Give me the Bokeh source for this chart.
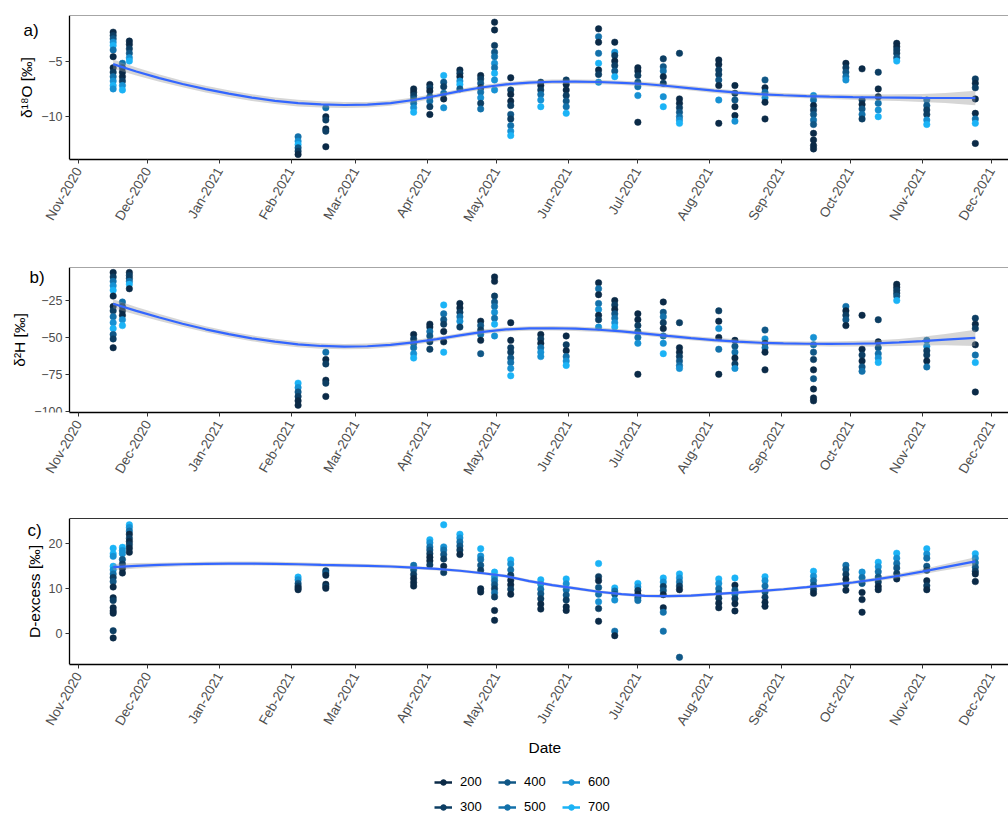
import math
import pandas as pd
from bokeh.plotting import figure
from bokeh.models import (ColumnDataSource, FixedTicker, MonthsTicker, DatetimeTickFormatter,
                          Range1d, Label, Legend, LegendItem, LinearAxis, Title)
from bokeh.layouts import column
from bokeh.embed import file_html
from bokeh.resources import INLINE

# ---------------- data ----------------
depth_levels = [200, 300, 400, 500, 600, 700]
depth_colors = ["#0b2a47", "#0d3e63", "#105786", "#1371aa", "#1791d3", "#1bb3f6"]

sample_dates = ["2020-11-16", "2020-11-20", "2020-11-23", "2021-02-04", "2021-02-16",
                "2021-03-26", "2021-04-02", "2021-04-08", "2021-04-15", "2021-04-24",
                "2021-04-30", "2021-05-07", "2021-05-20", "2021-05-31", "2021-06-14",
                "2021-06-21", "2021-07-01", "2021-07-12", "2021-07-19", "2021-08-05",
                "2021-08-12", "2021-08-25", "2021-09-15", "2021-09-29", "2021-10-06",
                "2021-10-13", "2021-10-21", "2021-11-03", "2021-11-24"]

# (value, depth) per sampling date
d18O = [
    [(-2.4, 200), (-2.7, 300), (-3.0, 400), (-3.3, 600), (-3.6, 700), (-4.0, 500), (-4.6, 200),
     (-5.6, 200), (-6.0, 300), (-6.4, 500), (-6.8, 600), (-7.2, 700), (-7.5, 600)],
    [(-5.2, 500), (-5.6, 300), (-6.0, 200), (-6.4, 200), (-6.8, 300), (-7.2, 600), (-7.6, 700)],
    [(-3.2, 200), (-3.5, 200), (-3.9, 300), (-4.3, 400), (-4.7, 600), (-5.0, 700)],
    [(-11.8, 500), (-12.2, 600), (-12.5, 700), (-12.8, 400), (-13.1, 300), (-13.4, 200)],
    [(-9.2, 500), (-10.0, 200), (-10.3, 300), (-11.1, 200), (-11.3, 300), (-12.7, 200)],
    [(-7.5, 200), (-7.8, 200), (-8.1, 300), (-8.4, 400), (-8.8, 500), (-9.2, 600), (-9.6, 700)],
    [(-7.1, 200), (-7.4, 300), (-7.7, 200), (-8.2, 400), (-8.6, 500), (-9.1, 300), (-9.8, 200)],
    [(-6.3, 700), (-6.9, 400), (-7.3, 300), (-7.9, 500), (-8.4, 200), (-9.2, 600)],
    [(-5.8, 200), (-6.1, 300), (-6.4, 200), (-6.8, 600), (-7.1, 700), (-7.5, 400)],
    [(-6.3, 200), (-6.6, 300), (-7.0, 400), (-7.4, 200), (-7.8, 500), (-8.3, 600), (-8.8, 300), (-9.3, 500)],
    [(-1.5, 200), (-2.2, 200), (-3.6, 300), (-4.2, 400), (-4.6, 500), (-5.2, 600), (-5.6, 500),
     (-6.1, 700), (-6.7, 600), (-7.6, 600)],
    [(-6.5, 200), (-7.6, 300), (-8.0, 200), (-8.6, 200), (-9.0, 300), (-9.8, 400), (-10.2, 300),
     (-10.8, 500), (-11.3, 600), (-11.7, 700)],
    [(-6.9, 300), (-7.2, 200), (-7.6, 300), (-8.0, 500), (-8.5, 600), (-9.1, 700)],
    [(-6.7, 300), (-7.1, 200), (-7.6, 200), (-8.1, 300), (-8.6, 400), (-9.1, 500), (-9.7, 700)],
    [(-2.1, 200), (-2.8, 500), (-3.3, 200), (-4.3, 500), (-5.2, 700), (-5.8, 200), (-6.2, 300), (-6.9, 600)],
    [(-3.3, 200), (-4.2, 600), (-4.5, 300), (-5.0, 200), (-5.4, 300), (-5.9, 400), (-6.4, 700)],
    [(-5.6, 200), (-5.9, 200), (-6.3, 300), (-6.9, 400), (-7.3, 500), (-8.1, 600), (-10.5, 200)],
    [(-4.8, 300), (-5.5, 400), (-5.9, 500), (-6.4, 200), (-7.0, 300), (-8.2, 600), (-9.1, 700)],
    [(-4.3, 300), (-8.4, 200), (-8.8, 200), (-9.2, 300), (-9.6, 400), (-10.0, 500), (-10.3, 600), (-10.6, 700)],
    [(-4.9, 200), (-5.3, 200), (-5.8, 300), (-6.2, 300), (-6.7, 400), (-7.2, 200), (-8.5, 600), (-10.6, 200)],
    [(-7.2, 200), (-7.9, 300), (-8.5, 400), (-9.1, 200), (-9.9, 200), (-10.4, 600)],
    [(-6.7, 400), (-7.4, 200), (-7.8, 500), (-8.3, 600), (-8.7, 200), (-10.2, 200)],
    [(-8.1, 600), (-8.5, 500), (-9.0, 200), (-9.4, 300), (-9.8, 400), (-10.3, 500), (-10.7, 400),
     (-11.5, 200), (-12.1, 200), (-12.6, 200), (-12.9, 200)],
    [(-5.2, 200), (-5.6, 300), (-6.0, 400), (-6.4, 500), (-6.7, 600)],
    [(-5.7, 200), (-8.5, 300), (-8.9, 200), (-9.3, 400), (-9.8, 500), (-10.2, 300)],
    [(-6.0, 300), (-7.5, 200), (-8.2, 200), (-8.8, 500), (-9.4, 600), (-10.0, 700)],
    [(-3.4, 200), (-3.7, 200), (-4.0, 300), (-4.3, 300), (-4.7, 400), (-5.0, 700)],
    [(-8.5, 500), (-9.0, 400), (-9.4, 300), (-9.8, 300), (-10.3, 600), (-10.7, 700)],
    [(-6.6, 300), (-7.0, 200), (-7.4, 300), (-8.4, 200), (-9.7, 200), (-10.2, 500), (-10.6, 700), (-12.4, 200)],
]

d2H = [
    [(-6, 200), (-9, 300), (-12, 500), (-15, 600), (-18, 700), (-22, 200), (-29, 200), (-32, 300),
     (-36, 500), (-40, 600), (-44, 700), (-48, 400), (-51, 300), (-57, 200)],
    [(-26, 500), (-29, 300), (-32, 200), (-35, 200), (-38, 600), (-42, 700)],
    [(-6, 200), (-8, 300), (-10, 300), (-12, 500), (-14, 700), (-17, 200)],
    [(-81, 700), (-84, 600), (-87, 400), (-90, 300), (-93, 200), (-96, 200)],
    [(-60, 500), (-65, 200), (-68, 300), (-79, 200), (-81, 300), (-90, 200)],
    [(-48, 200), (-51, 300), (-54, 400), (-57, 500), (-61, 600), (-64, 700)],
    [(-41, 200), (-43, 200), (-46, 500), (-49, 400), (-53, 300), (-58, 300)],
    [(-28, 700), (-34, 500), (-38, 400), (-41, 300), (-46, 200), (-53, 200), (-60, 700)],
    [(-27, 200), (-30, 200), (-33, 300), (-36, 500), (-39, 600), (-43, 300)],
    [(-39, 200), (-42, 400), (-45, 300), (-48, 500), (-52, 200), (-61, 400)],
    [(-9, 200), (-12, 200), (-22, 300), (-26, 400), (-29, 500), (-33, 600), (-37, 500), (-41, 700), (-49, 600)],
    [(-40, 200), (-52, 200), (-57, 300), (-60, 300), (-64, 400), (-67, 500), (-71, 600), (-76, 700)],
    [(-48, 200), (-51, 300), (-54, 200), (-57, 500), (-60, 600), (-63, 600)],
    [(-49, 200), (-55, 300), (-59, 200), (-63, 500), (-66, 600), (-69, 700)],
    [(-13, 200), (-17, 500), (-21, 200), (-27, 500), (-31, 600), (-35, 200), (-38, 300), (-43, 600)],
    [(-25, 200), (-28, 300), (-31, 200), (-34, 400), (-37, 500), (-40, 600), (-43, 700)],
    [(-34, 200), (-38, 200), (-42, 300), (-46, 400), (-50, 500), (-54, 600), (-75, 200)],
    [(-26, 200), (-33, 400), (-36, 500), (-40, 300), (-44, 200), (-49, 500), (-54, 600), (-61, 700)],
    [(-40, 300), (-57, 200), (-60, 200), (-63, 300), (-66, 400), (-69, 500), (-71, 600)],
    [(-32, 300), (-39, 200), (-44, 600), (-50, 200), (-58, 500), (-75, 200)],
    [(-52, 200), (-56, 400), (-60, 500), (-64, 200), (-68, 300), (-71, 600)],
    [(-45, 400), (-51, 600), (-54, 200), (-57, 500), (-60, 200), (-72, 200)],
    [(-50, 600), (-55, 500), (-60, 400), (-65, 300), (-72, 200), (-78, 400), (-85, 200), (-91, 200), (-93, 200)],
    [(-29, 500), (-32, 200), (-35, 300), (-38, 400), (-42, 200)],
    [(-35, 200), (-58, 200), (-62, 300), (-66, 200), (-70, 400), (-73, 500)],
    [(-38, 300), (-53, 200), (-57, 400), (-61, 500), (-64, 600), (-67, 700)],
    [(-14, 200), (-16, 200), (-18, 300), (-20, 300), (-22, 400), (-25, 700)],
    [(-52, 500), (-56, 600), (-59, 300), (-62, 300), (-66, 200), (-70, 500)],
    [(-37, 300), (-41, 200), (-44, 300), (-55, 200), (-62, 500), (-67, 700), (-87, 200)],
]

d_excess = [
    [(19.0, 700), (17.8, 700), (17.2, 600), (15.0, 700), (14.2, 600), (13.3, 500), (12.5, 300), (11.6, 400),
     (10.4, 200), (8.0, 200), (7.4, 300), (5.8, 200), (5.1, 200), (4.6, 200), (0.7, 300), (-0.9, 200)],
    [(19.2, 700), (18.5, 600), (17.8, 600), (16.5, 400), (15.5, 300), (14.5, 200), (13.5, 200)],
    [(24.2, 700), (23.6, 600), (22.8, 500), (22.1, 200), (21.2, 300), (20.5, 200), (19.8, 300), (19.0, 200), (18.1, 200)],
    [(12.6, 700), (12.0, 600), (11.2, 400), (10.6, 300), (10.2, 200), (9.8, 200)],
    [(14.0, 300), (13.5, 400), (13.0, 200), (11.0, 200), (10.5, 300), (10.1, 200)],
    [(15.2, 500), (14.2, 400), (13.2, 300), (12.3, 200), (11.4, 200), (10.6, 200)],
    [(20.9, 700), (20.2, 600), (19.3, 500), (18.6, 400), (17.8, 300), (17.0, 200), (16.2, 200), (15.3, 300)],
    [(24.2, 700), (19.3, 600), (18.6, 500), (17.6, 400), (16.6, 300), (15.0, 200), (13.6, 300)],
    [(22.1, 700), (21.3, 600), (20.4, 500), (19.5, 400), (18.6, 300), (17.6, 200)],
    [(18.9, 700), (17.3, 600), (16.5, 500), (15.2, 400), (14.1, 300), (10.0, 200), (9.3, 200)],
    [(13.7, 700), (12.6, 600), (11.8, 500), (10.9, 400), (10.0, 300), (9.1, 500), (8.2, 300), (5.2, 200), (3.0, 200)],
    [(16.4, 700), (15.5, 600), (14.2, 500), (13.0, 300), (11.9, 200), (10.9, 200), (9.9, 300), (8.8, 200)],
    [(12.0, 700), (11.0, 600), (9.9, 500), (8.9, 400), (7.8, 300), (6.6, 200), (5.5, 200)],
    [(12.2, 700), (11.1, 600), (9.8, 500), (8.6, 400), (7.5, 300), (6.0, 200), (5.2, 200)],
    [(15.6, 700), (12.7, 300), (11.8, 200), (10.3, 400), (8.8, 500), (7.1, 600), (5.6, 300), (2.8, 200)],
    [(10.2, 700), (9.5, 500), (8.8, 400), (7.5, 600), (0.6, 500), (-0.4, 200)],
    [(11.2, 700), (10.4, 600), (9.6, 300), (8.8, 200), (8.0, 400), (7.4, 500)],
    [(12.4, 700), (11.5, 600), (10.5, 300), (9.6, 400), (8.7, 200), (5.8, 200), (4.8, 500), (0.6, 500)],
    [(13.3, 700), (12.4, 600), (11.5, 500), (10.6, 300), (9.8, 200), (-5.2, 400)],
    [(12.2, 700), (11.2, 600), (10.0, 500), (9.0, 400), (7.9, 300), (6.8, 200), (5.8, 200)],
    [(12.4, 700), (10.8, 200), (9.7, 400), (8.8, 500), (7.8, 300), (6.7, 200), (5.1, 200)],
    [(12.7, 700), (11.8, 600), (10.6, 500), (9.3, 400), (8.1, 300), (7.0, 200), (6.1, 200)],
    [(13.9, 700), (12.8, 600), (11.8, 500), (10.8, 400), (9.8, 300), (9.0, 200)],
    [(15.2, 500), (14.3, 400), (13.2, 300), (12.1, 200), (11.0, 300), (9.7, 200)],
    [(13.7, 600), (12.5, 500), (11.2, 400), (9.2, 200), (7.6, 200), (4.8, 200)],
    [(15.9, 700), (14.9, 600), (13.8, 500), (12.6, 400), (11.5, 300), (10.5, 200), (9.8, 200)],
    [(17.9, 700), (16.8, 600), (15.6, 500), (14.6, 400), (13.4, 300), (12.2, 200)],
    [(18.9, 700), (17.7, 600), (16.8, 500), (15.0, 400), (14.1, 300), (11.8, 200), (10.7, 300), (9.8, 200)],
    [(17.8, 700), (16.8, 600), (15.8, 500), (14.8, 400), (13.9, 300), (13.3, 200), (11.6, 200)],
]

# smoothed (loess) curves, with half width of the grey band
fit_dates = ["2020-11-16", "2020-11-26", "2020-12-06", "2020-12-16", "2020-12-26", "2021-01-05",
             "2021-01-15", "2021-01-25", "2021-02-04", "2021-02-14", "2021-02-24", "2021-03-06",
             "2021-03-16", "2021-03-26", "2021-04-05", "2021-04-15", "2021-04-25", "2021-05-05",
             "2021-05-15", "2021-05-25", "2021-06-04", "2021-06-14", "2021-06-24", "2021-07-04",
             "2021-07-14", "2021-07-24", "2021-08-03", "2021-08-13", "2021-08-23", "2021-09-02",
             "2021-09-12", "2021-09-22", "2021-10-02", "2021-10-12", "2021-10-22", "2021-11-01",
             "2021-11-11", "2021-11-24"]
d18O_fit = [-5.27, -5.93, -6.53, -7.06, -7.52, -7.93, -8.28, -8.57, -8.78, -8.90, -8.95, -8.92,
            -8.78, -8.50, -8.12, -7.70, -7.35, -7.09, -6.93, -6.86, -6.85, -6.88, -6.96, -7.06,
            -7.24, -7.45, -7.66, -7.84, -7.98, -8.07, -8.15, -8.20, -8.24, -8.27, -8.29, -8.31,
            -8.32, -8.32]
d18O_se = [0.42, 0.36, 0.32, 0.3, 0.3, 0.3, 0.3, 0.3, 0.3, 0.28, 0.26, 0.25, 0.24, 0.22, 0.2,
           0.2, 0.2, 0.2, 0.2, 0.2, 0.2, 0.2, 0.2, 0.2, 0.2, 0.2, 0.2, 0.2, 0.2, 0.2, 0.2, 0.22,
           0.24, 0.27, 0.3, 0.36, 0.45, 0.65]
d2H_fit = [-27.2, -32.0, -36.5, -40.7, -44.5, -47.8, -50.6, -52.9, -54.7, -55.8, -56.3, -56.0,
           -55.0, -53.3, -51.2, -48.6, -46.2, -44.6, -43.9, -43.8, -44.1, -44.8, -45.9, -47.4,
           -49.0, -50.5, -51.8, -52.8, -53.6, -54.1, -54.3, -54.4, -54.3, -54.0, -53.4, -52.5,
           -51.5, -50.3]
d2H_se = [3.0, 2.6, 2.3, 2.1, 2.0, 2.0, 2.0, 2.0, 2.0, 1.9, 1.8, 1.8, 1.7, 1.6, 1.5, 1.5, 1.5,
          1.5, 1.5, 1.5, 1.5, 1.5, 1.5, 1.5, 1.5, 1.5, 1.5, 1.5, 1.5, 1.5, 1.6, 1.7, 1.9, 2.1,
          2.4, 3.0, 3.8, 5.5]
dex_fit = [14.8, 15.1, 15.3, 15.45, 15.55, 15.6, 15.6, 15.55, 15.45, 15.3, 15.2, 15.1, 14.95,
           14.7, 14.4, 14.0, 13.45, 12.8, 11.7, 10.8, 10.1, 9.35, 8.8, 8.45, 8.36, 8.5, 8.8,
           9.15, 9.5, 9.9, 10.35, 10.85, 11.4, 12.1, 12.9, 13.8, 14.8, 16.1]
dex_se = [0.7, 0.6, 0.5, 0.45, 0.45, 0.45, 0.45, 0.45, 0.45, 0.42, 0.4, 0.4, 0.38, 0.36, 0.35,
          0.35, 0.35, 0.35, 0.35, 0.35, 0.35, 0.35, 0.35, 0.35, 0.35, 0.35, 0.35, 0.35, 0.35,
          0.35, 0.35, 0.36, 0.38, 0.42, 0.48, 0.56, 0.68, 0.9]

panel_letters = ["a)", "b)", "c)"]
y_titles = ["δ¹⁸O [‰]", "δ²H [‰]", "D-excess [‰]"]
y_ticks = [[-10, -5], [-100, -75, -50, -25], [0, 10, 20]]
y_limits = [(-13.85, -0.9), (-100.9, -2.6), (-6.8, 25.6)]
x_title = "Date"

# ---------------- drawing ----------------
FONT = "Liberation Sans"
W = 1008
PX_PER_DAY = 913 / 395           # Nov-2020 tick at x=78, Dec-2021 tick at x=991
ORIGIN = pd.Timestamp("2020-11-01")
x_start = ORIGIN - pd.Timedelta(days=78 / PX_PER_DAY)
x_end = ORIGIN + pd.Timedelta(days=(W - 78) / PX_PER_DAY)
y_axis_at = ORIGIN - pd.Timedelta(days=9 / PX_PER_DAY)     # y axis line at x=69
EPOCH = pd.Timestamp("1970-01-01")
y_axis_ms = (y_axis_at - EPOCH).total_seconds() * 1000
x_end_ms = (x_end - EPOCH).total_seconds() * 1000


def point_source(groups):
    xs, ys, cs = [], [], []
    for dt, grp in zip(sample_dates, groups):
        for v, d in grp:
            xs.append(pd.Timestamp(dt))
            ys.append(v)
            cs.append(depth_colors[depth_levels.index(d)])
    return ColumnDataSource(dict(x=xs, y=ys, c=cs))


def fit_source(fit, se):
    return ColumnDataSource(dict(x=[pd.Timestamp(d) for d in fit_dates], y=fit,
                                 lo=[f - s for f, s in zip(fit, se)],
                                 hi=[f + s for f, s in zip(fit, se)]))


def panel(i, groups, fit, se, height, top, bottom, letter_x, letter_drop, top_color, xlabel=None):
    p = figure(width=W, height=height, x_axis_type="datetime", output_backend="svg",
               toolbar_location=None, x_range=Range1d(x_start, x_end),
               y_range=Range1d(*y_limits[i]), min_border_left=0, min_border_right=0,
               min_border_top=top, min_border_bottom=bottom)
    p.grid.visible = False
    p.outline_line_color = None
    p.background_fill_color = "white"
    p.border_fill_color = "white"

    p.scatter("x", "y", source=point_source(groups), size=6.5, fill_color="c", line_color="c",
              line_width=0.5)
    fs = fit_source(fit, se)
    p.varea(x="x", y1="lo", y2="hi", source=fs, fill_color="#999999", fill_alpha=0.4)
    p.line("x", "y", source=fs, line_color="#3366FF", line_width=2.2)

    xa = p.below[0]
    xa.ticker = MonthsTicker(months=list(range(12)))
    fmt = "%b-%Y"
    xa.formatter = DatetimeTickFormatter(days=fmt, months=fmt, years=fmt, hours=fmt,
                                         context=None)
    xa.major_label_orientation = math.pi / 3
    xa.bounds = (y_axis_ms, x_end_ms)
    ya = p.left[0]
    ya.ticker = FixedTicker(ticks=y_ticks[i])
    ya.axis_label = y_titles[i]
    ya.fixed_location = y_axis_ms
    for ax in (xa, ya):
        ax.axis_line_color = "black"
        ax.axis_line_width = 1.3
        ax.major_tick_line_color = "#333333"
        ax.major_tick_out = 4
        ax.major_tick_in = 0
        ax.minor_tick_line_color = None
        ax.major_label_text_font = FONT
        ax.major_label_text_color = "#4d4d4d"
        ax.axis_label_text_font = FONT
        ax.axis_label_text_font_size = "15.5px"
        ax.axis_label_text_font_style = "normal"
        ax.axis_label_text_color = "black"
    xa.major_label_text_font_size = "13.5px"
    ya.major_label_text_font_size = "12.5px"
    ya.major_label_standoff = 3
    ya.axis_label_standoff = 3
    if xlabel:
        p.add_layout(Title(text=xlabel, align="left", offset=528, standoff=2,
                           text_font=FONT, text_font_size="15.5px", text_font_style="normal",
                           text_color="black"), "below")

    # thin top border of the panel
    top_line = LinearAxis(ticker=FixedTicker(ticks=[]), bounds=(y_axis_ms, x_end_ms),
                          axis_line_color=top_color, axis_line_width=1,
                          major_tick_line_color=None, minor_tick_line_color=None,
                          major_label_text_font_size="0px")
    p.add_layout(top_line, "above")

    frame_h = height - top - bottom
    p.add_layout(Label(x=letter_x, y=frame_h - letter_drop, x_units="screen", y_units="screen",
                       text=panel_letters[i], text_baseline="alphabetic", text_font=FONT,
                       text_font_size="17px", text_color="black"))
    return p


pa = panel(0, d18O, d18O_fit, d18O_se, 245, 15, 86, 23, 15, "#a6a6a6")
pb = panel(1, d2H, d2H_fit, d2H_se, 255, 22, 88, 29, 10, "#a6a6a6")
pc = panel(2, d_excess, dex_fit, dex_se, 259, 18, 95, 27, 12, "#333333", xlabel=x_title)

# legend strip
pl = figure(width=W, height=55, output_backend="svg", toolbar_location=None,
            x_axis_location=None, y_axis_location=None, min_border=0,
            x_range=Range1d(0, 1), y_range=Range1d(0, 1))
pl.grid.visible = False
pl.outline_line_color = None
items = []
for d, c in zip(depth_levels, depth_colors):
    rl = pl.line(x=[-2, -1], y=[-2, -1], line_color=c, line_width=2.5)
    rp = pl.scatter(x=[-2], y=[-2], fill_color=c, line_color=c, size=6)
    items.append(LegendItem(label=str(d), renderers=[rl, rp]))
leg = Legend(items=items, orientation="vertical", nrows=2, location=(434, 0),
             glyph_width=18, glyph_height=14, label_height=14, label_width=28, spacing=10,
             label_standoff=8, padding=0, margin=0, border_line_color=None,
             background_fill_alpha=0, label_text_font=FONT, label_text_font_size="13px",
             label_text_color="black")
pl.add_layout(leg, "center")

layout = column(pa, pb, pc, pl, spacing=0)
open("out.html", "w").write(file_html(layout, INLINE))
